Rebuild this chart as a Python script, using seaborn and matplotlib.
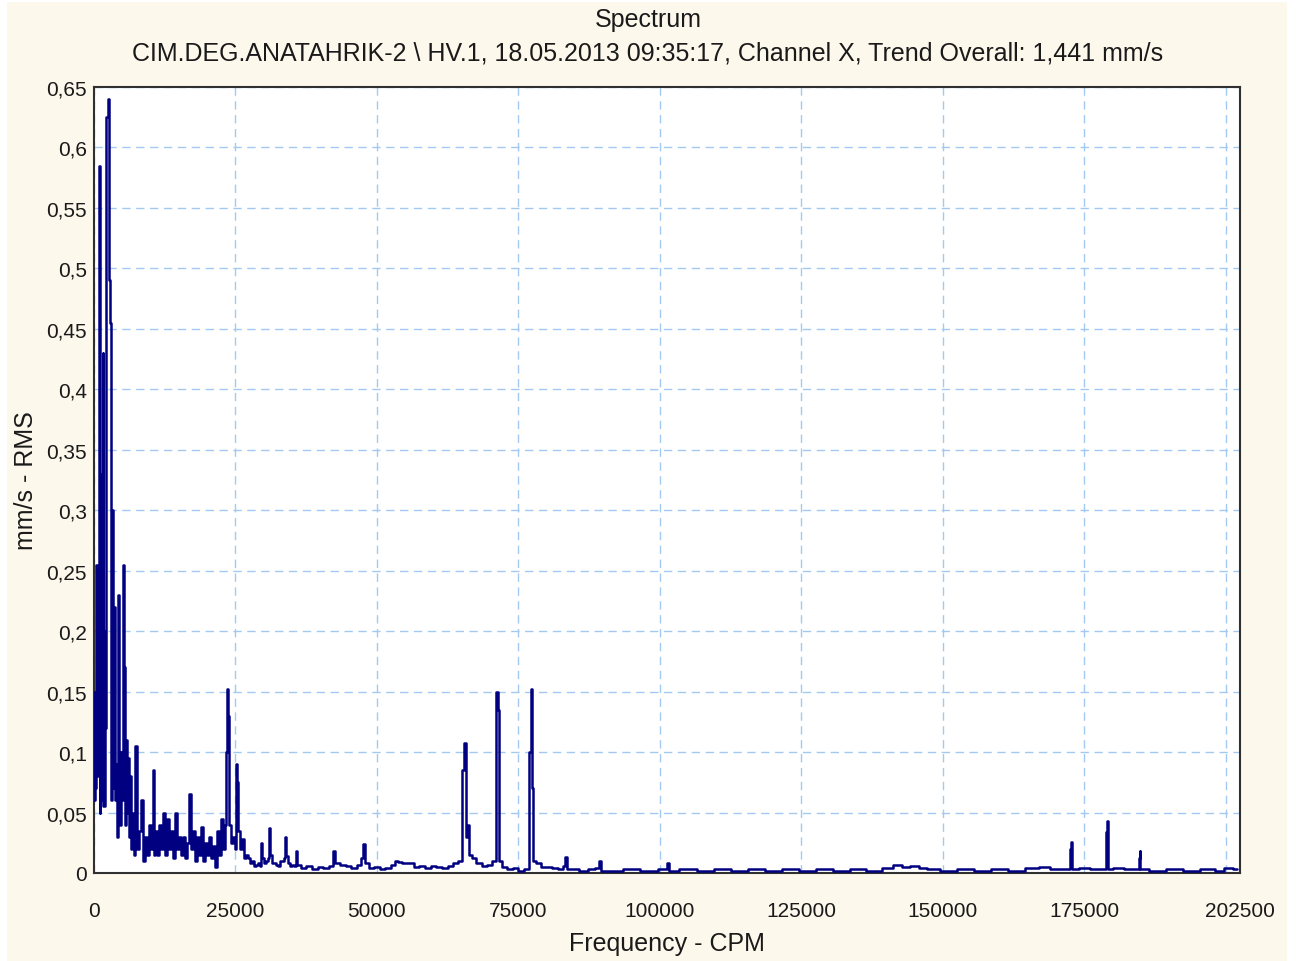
import matplotlib
matplotlib.use("Agg")
import matplotlib.pyplot as plt
from matplotlib.patches import Rectangle
import seaborn as sns
import numpy as np

# low band 0 - 7.3k CPM (dense, one point per pixel)
low_freq = [0, 177, 353, 530, 707, 884, 1060, 1237, 1414, 1590, 1767, 1944, 2120, 2297,
            2474, 2650, 2827, 3004, 3180, 3357, 3534, 3710, 3887, 4064, 4240, 4417, 4594,
            4770, 4947, 5124, 5300, 5477, 5654, 5830, 6007, 6184, 6360, 6537, 6714, 6890,
            7067, 7244]
low_amp = [0.06, 0.15, 0.07, 0.255, 0.08, 0.585, 0.05, 0.33, 0.06, 0.43, 0.055, 0.20, 0.12, 0.625,
           0.63, 0.64, 0.49, 0.455, 0.06, 0.30, 0.07, 0.22, 0.06, 0.09, 0.03, 0.23, 0.10,
           0.04, 0.10, 0.06, 0.255, 0.17, 0.04, 0.11, 0.05, 0.095, 0.03, 0.08, 0.02, 0.03,
           0.05, 0.015]

# 7k - 36k CPM
mid_freq = [7421, 7775, 8128, 8482, 8835, 9188, 9542, 9895, 10250, 10426, 10603, 10956, 11310,
            11663, 12016, 12370, 12723, 13076, 13430, 13783, 14136, 14490, 14843, 15196, 15550,
            15903, 16256, 16610, 16963, 17316, 17670, 18023, 18376, 18730, 19083, 19436, 19790,
            20143, 20496, 20850, 21203, 21556, 21910, 22263, 22616, 22970, 23323, 23500, 23677,
            23853, 24030, 24384, 24737, 25090, 25267, 25444, 25620, 25974, 26327, 26680, 27034,
            27387, 27740, 28094, 28447, 28800, 29154, 29507, 29684, 29860, 30214, 30567, 30920,
            31097, 31274, 31627, 31980, 32334, 32687, 33040, 33394, 33747, 33924, 34100, 34454,
            34807, 35160, 35514, 35867, 36044]
mid_amp = [0.105, 0.02, 0.035, 0.06, 0.01, 0.03, 0.015, 0.04, 0.02, 0.085, 0.015, 0.035, 0.015,
           0.04, 0.02, 0.05, 0.015, 0.045, 0.02, 0.035, 0.012, 0.05, 0.02, 0.03, 0.015,
           0.03, 0.012, 0.025, 0.065, 0.02, 0.035, 0.01, 0.03, 0.015, 0.038, 0.01, 0.025,
           0.015, 0.03, 0.012, 0.022, 0.005, 0.035, 0.015, 0.045, 0.02, 0.04, 0.10, 0.152,
           0.13, 0.04, 0.025, 0.03, 0.02, 0.09, 0.075, 0.035, 0.02, 0.028, 0.012, 0.015,
           0.012, 0.008, 0.01, 0.006, 0.007, 0.008, 0.006, 0.025, 0.012, 0.008, 0.01, 0.012,
           0.037, 0.015, 0.008, 0.008, 0.007, 0.006, 0.01, 0.01, 0.012, 0.03, 0.014, 0.008,
           0.006, 0.007, 0.006, 0.018, 0.007]

# 36k - 90k CPM
high_freq = [37000, 38000, 39000, 40000, 41000, 42000, 42400, 42800, 44000, 45000, 46000, 47000,
             47400, 47700, 48100, 49000, 50000, 51000, 52000, 53000, 53500, 54000, 55000, 56000,
             57000, 58000, 59000, 60000, 61000, 62000, 63000, 64000, 64800, 65300, 65560, 65800,
             66200, 66500, 67000, 68000, 69000, 70000, 70800, 71200, 71400, 71700, 72500, 73500,
             74500, 75500, 76500, 77100, 77300, 77500, 77800, 78500, 79500, 80500, 81500, 82500,
             83200, 83400, 83700, 85000, 86500, 88000, 89200, 89400, 89700]
high_amp = [0.004, 0.006, 0.003, 0.005, 0.004, 0.006, 0.018, 0.008, 0.007, 0.006, 0.004, 0.007,
            0.012, 0.024, 0.008, 0.004, 0.005, 0.003, 0.004, 0.007, 0.010, 0.009, 0.008, 0.008,
            0.005, 0.006, 0.004, 0.006, 0.005, 0.004, 0.006, 0.008, 0.010, 0.085, 0.1075, 0.03,
            0.04, 0.015, 0.012, 0.008, 0.006, 0.007, 0.010, 0.15, 0.135, 0.010, 0.005, 0.003,
            0.004, 0.002, 0.003, 0.10, 0.152, 0.07, 0.010, 0.008, 0.005, 0.005, 0.004, 0.003,
            0.006, 0.013, 0.003, 0.003, 0.002, 0.003, 0.004, 0.010, 0.002]

# 90k - 202.5k CPM
top_freq = [92000, 95000, 98000, 101200, 101400, 101700, 105000, 108000, 111000, 114000, 117000,
            120000, 123000, 126000, 129000, 132000, 135000, 138000, 140500, 142000, 143500,
            145000, 146500, 148000, 151000, 154000, 157000, 160000, 163000, 166000, 168000,
            170000, 172400, 172600, 172800, 173000, 175000, 177000, 178700, 178900, 179000,
            179200, 181000, 183000, 184500, 184700, 184800, 185000, 188000, 191000, 194000,
            197000, 199000, 200500, 202000]
top_amp = [0.002, 0.003, 0.002, 0.003, 0.008, 0.002, 0.003, 0.002, 0.003, 0.002, 0.003,
           0.002, 0.003, 0.002, 0.003, 0.002, 0.003, 0.002, 0.004, 0.007, 0.005,
           0.006, 0.004, 0.003, 0.002, 0.003, 0.002, 0.003, 0.002, 0.004, 0.005,
           0.003, 0.003, 0.020, 0.026, 0.003, 0.004, 0.003, 0.003, 0.034, 0.043,
           0.003, 0.004, 0.003, 0.003, 0.012, 0.018, 0.003, 0.002, 0.003, 0.002,
           0.003, 0.002, 0.004, 0.003]

freq = np.array(low_freq + mid_freq + high_freq + top_freq)
amp = np.array(low_amp + mid_amp + high_amp + top_amp)

# vertical grid every 25000, last label sits on the right edge
x_ticks = [0, 25000, 50000, 75000, 100000, 125000, 150000, 175000, 200000, 202500]
x_labels = ["0", "25000", "50000", "75000", "100000", "125000", "150000", "175000", "", "202500"]
y_ticks = [0, 0.05, 0.1, 0.15, 0.2, 0.25, 0.3, 0.35, 0.4, 0.45, 0.5, 0.55, 0.6, 0.65]

title = "Spectrum"
subtitle = "CIM.DEG.ANATAHRIK-2 \\ HV.1, 18.05.2013 09:35:17, Channel X, Trend Overall: 1,441 mm/s"

sns.set_style("white")
plt.rcParams['font.family'] = ['Liberation Sans', 'DejaVu Sans']

fig = plt.figure(figsize=(12.96, 9.62), dpi=100, facecolor="white")
# cream panel behind everything
fig.patches.append(Rectangle((7 / 1296, 0), 1280 / 1296, 959 / 962, transform=fig.transFigure,
                             facecolor="#FDF8EC", edgecolor="none", zorder=-5))

ax = fig.add_axes([94 / 1296, 88 / 962, 1146 / 1296, 786 / 962])
ax.set_facecolor("white")

sns.lineplot(x=freq, y=amp, ax=ax, color="#000080", linewidth=1.8,
             estimator=None, sort=False, drawstyle="steps-mid", zorder=3)

ax.set_xlim(0, 202500)
ax.set_ylim(0, 0.65)

ax.set_xticks(x_ticks)
ax.set_xticklabels(x_labels)
ax.set_yticks(y_ticks)
ax.set_yticklabels(["0" if v == 0 else ("%g" % v).replace(".", ",") for v in y_ticks])

ax.grid(True, color="#A3C8F2", linestyle=(0, (6, 4)), linewidth=1)
ax.tick_params(axis="x", length=0, pad=20, labelsize=15, labelcolor="#1a1a1a")
ax.tick_params(axis="y", length=3, color="#A3C8F2", pad=2, labelsize=15, labelcolor="#1a1a1a")

for s in ax.spines.values():
    s.set_color("#303030")
    s.set_linewidth(1.5)

ax.set_xlabel("Frequency - CPM", fontsize=18, color="#1a1a1a", labelpad=8)
ax.set_ylabel("mm/s - RMS", fontsize=18, color="#1a1a1a", labelpad=6)

fig.text(0.5, 1 - 20 / 962, title, ha="center", va="center", fontsize=18, color="#1a1a1a")
fig.text(0.5, 1 - 53 / 962, subtitle, ha="center", va="center", fontsize=18, color="#1a1a1a")

fig.savefig("out.png", dpi=100, facecolor=fig.get_facecolor())
